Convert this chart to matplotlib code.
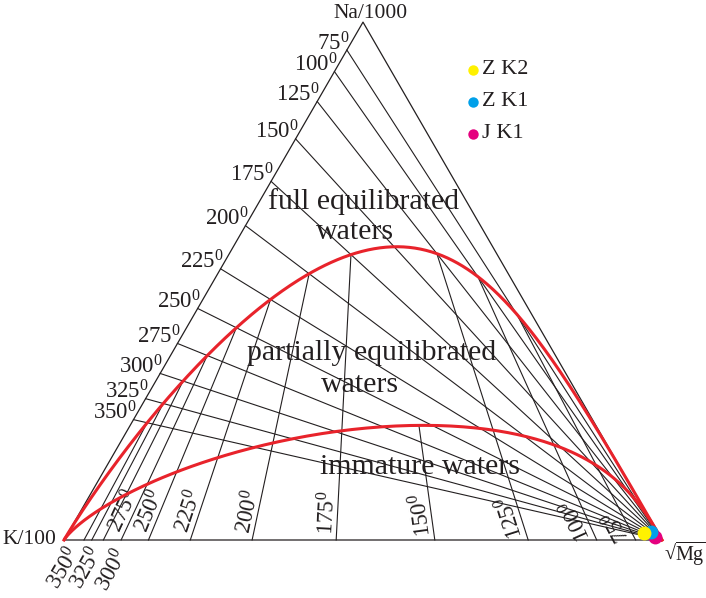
import numpy as np
import matplotlib.pyplot as plt

plt.rcParams['font.family'] = ['Liberation Serif', 'DejaVu Serif']
plt.rcParams['mathtext.fontset'] = 'custom'
plt.rcParams['mathtext.rm'] = 'Liberation Serif'
plt.rcParams['mathtext.it'] = 'Liberation Serif:italic'

# isotherms (deg C) of the Giggenbach Na-K and K-Mg geothermometers
nak_temps = [75, 100, 125, 150, 175, 200, 225, 250, 275, 300, 325, 350]
kmg_temps = [75, 100, 125, 150, 175, 200, 225, 250, 275, 300, 325, 350]
kmg_below = {350: (-3, -13), 325: (12, -13), 300: (25, -14)}  # labels under the edge
kmg_to_immature = [150]              # isotherm that stops at the lower curve
mi_partial = 2.0                     # maturity index of the lower curve

# samples, ternary %: Na/1000, K/100, sqrt(Mg)
names = ['Z K2', 'Z K1', 'J K1']
na = [1.35, 1.54, 0.58]
k = [2.33, 1.07, 0.88]
mg = [96.32, 97.39, 98.54]
colors = ['#fff100', '#00a0e9', '#e5007f']

H = np.sqrt(3) / 2
S = 598.0  # pixels per unit side


def tern(n, kk, m):
    s = n + kk + m
    return (m + 0.5 * n) / s, H * n / s


def lg_nak(t):
    return 1390.0 / (t + 273) - 1.75


def lg_k2mg(t):
    return 14.0 - 4410.0 / (t + 273)


def point(a, b):
    # K = 1, Na/K = 10**a, K^2/Mg = 10**b
    return tern(10.0 ** a / 1000.0, 0.01, np.sqrt(10.0 ** (-b)))


fig = plt.figure(figsize=(7.06, 5.98), dpi=100)
ax = fig.add_axes([0, 0, 1, 1])
ax.set_xlim(-64 / S, 642 / S)
ax.set_ylim(-58 / S, 540 / S)
ax.axis('off')

lc = '#231f20'
ax.plot([0, 1, 0.5, 0], [0, 0, H, 0], color=lc, lw=0.9, zorder=2)

# Na-K isotherms: Na-K edge to Mg apex
for t in nak_temps:
    x0, y0 = point(lg_nak(t), 60)
    ax.plot([x0, 1], [y0, 0], color=lc, lw=0.8, zorder=1)
    ax.annotate('%d$^{0}$' % t, (x0, y0), xytext=(3, 0), textcoords='offset pixels',
                ha='right', va='baseline', fontsize=16.5, color=lc)

# K-Mg isotherms: K-Mg edge towards Na apex, up to the equilibrium curve
for t in kmg_temps:
    b = lg_k2mg(t)
    x0, y0 = point(-60, b)
    if t in kmg_to_immature:
        x1, y1 = point(mi_partial - 0.315 * b, b)
    else:
        x1, y1 = point(lg_nak(t), b)
    ax.plot([x0, x1], [y0, y1], color=lc, lw=0.8, zorder=1)
    ang = np.degrees(np.arctan2(H - y0, 0.5 - x0))
    u = np.array([np.cos(np.radians(ang)), np.sin(np.radians(ang))])
    v = np.array([-u[1], u[0]])
    if t in kmg_below:
        ax.annotate('%d$^{0}$' % t, (x0, y0), xytext=kmg_below[t], textcoords='offset pixels',
                    ha='right', va='baseline', rotation=ang - 2, rotation_mode='anchor',
                    fontsize=16.5, color=lc)
    else:
        off = 5 * u + 3 * v
        ax.annotate('%d$^{0}$' % t, (x0, y0), xytext=(off[0], off[1]), textcoords='offset pixels',
                    ha='left', va='baseline', rotation=ang, rotation_mode='anchor',
                    fontsize=16.5, color=lc)

# full equilibrium curve
tk = np.geomspace(110, 6000, 1500) - 273
fx, fy = point(lg_nak(tk), lg_k2mg(tk))
ax.plot(fx, fy, color='#e8232b', lw=2.2, zorder=3)

# partial equilibrium (immature) boundary
a = np.linspace(-12, 14, 1500)
px, py = point(a, (mi_partial - a) / 0.315)
ax.plot(px, py, color='#e8232b', lw=2.2, zorder=3)

# samples
for i in [2, 1, 0]:
    x, y = tern(na[i], k[i], mg[i])
    ax.plot(x, y, 'o', ms=10, color=colors[i], mec='none', zorder=5, clip_on=False)

# legend
for i, nm in enumerate(names):
    ly = (540 - 70 - 32 * i) / S
    lx = (473 - 64) / S
    ax.plot(lx, ly, 'o', ms=7.5, color=colors[i], mec='none')
    ax.text(lx + 9 / S, ly, nm, ha='left', va='center', fontsize=16, color=lc)

# vertex labels
ax.annotate('Na/1000', (0.5, H), xytext=(8, 9), textcoords='offset pixels',
            ha='center', va='center', fontsize=15.5, color=lc)
ax.annotate('K/100', (0, 0), xytext=(-8, 0), textcoords='offset pixels',
            ha='right', va='center', fontsize=15.5, color=lc)
ax.annotate(r'√$\overline{\mathrm{Mg}}$', (1, 0), xytext=(2, -14), textcoords='offset pixels',
            ha='left', va='center', fontsize=14.5, color=lc)

# field names
fs = 21.5
ax.text((363 - 64) / S, (540 - 202) / S, 'full equilibrated', ha='center', va='center',
        fontsize=fs, color=lc)
ax.text((355 - 64) / S, (540 - 232) / S, 'waters', ha='center', va='center',
        fontsize=fs, color=lc)
ax.text((372 - 64) / S, (540 - 353) / S, 'partially equilibrated', ha='center', va='center',
        fontsize=fs, color=lc)
ax.text((360 - 64) / S, (540 - 385) / S, 'waters', ha='center', va='center',
        fontsize=fs, color=lc)
ax.text((420 - 64) / S, (540 - 467) / S, 'immature waters', ha='center', va='center',
        fontsize=fs, color=lc)

fig.savefig('out.png', dpi=100)
